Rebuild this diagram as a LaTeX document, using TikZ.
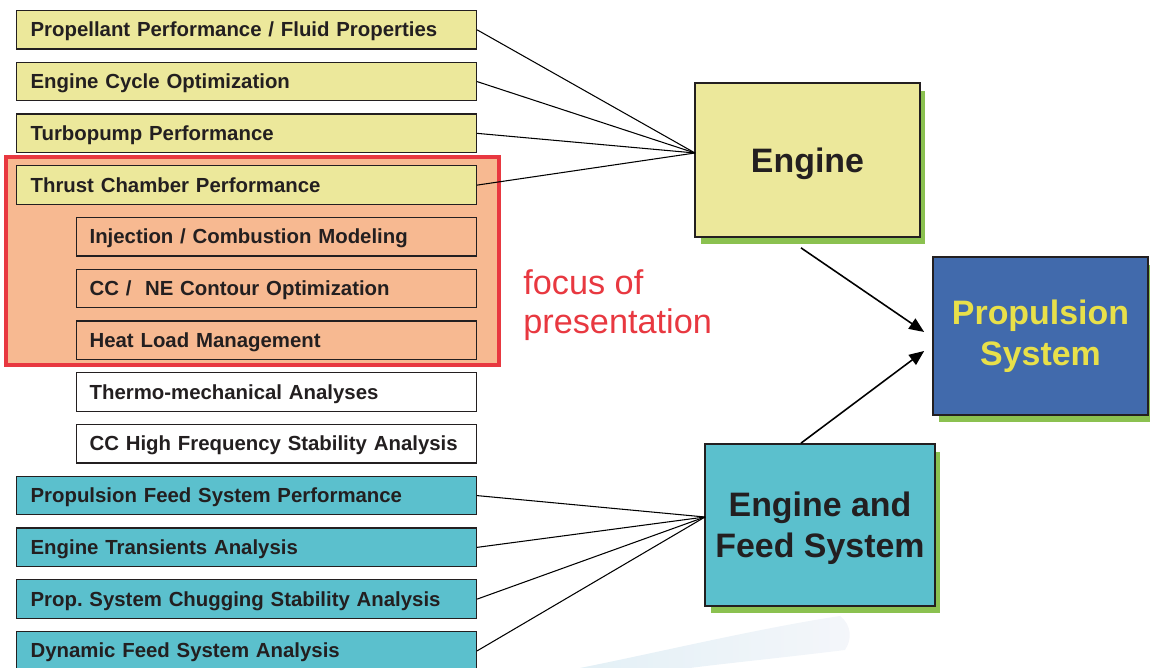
\documentclass[tikz,border=0pt]{standalone}
\usepackage{fontspec}
\setmainfont{Liberation Sans}
\usepackage{tikz}
\usetikzlibrary{shadows, arrows.meta}

\begin{document}
\frenchspacing
\begin{tikzpicture}[x=0.02cm, y=-0.02cm,
  rowbox/.style={draw=ink, line width=0.7pt, anchor=north west, minimum height=0.77cm,
    text width=8.64cm, inner xsep=0.28cm, inner ysep=0pt, align=left, text=ink,
    text height=0.85em, text depth=0.05em,
    font=\fontsize{11.6}{14}\selectfont\bfseries},
  subbox/.style={rowbox, text width=7.48cm, inner xsep=0.26cm},
  bigbox/.style={draw=ink, line width=1pt, align=center, text=ink,
    font=\fontsize{19.3}{23.3}\selectfont\bfseries,
    drop shadow={shadow xshift=0.11cm, shadow yshift=-0.15cm, fill=leafgreen, opacity=1}},
  feeder/.style={line width=0.6pt, draw=black},
  flow/.style={->, >={Triangle[length=8.5pt, width=7pt]}, line width=0.9pt}]
% --- cores ---
\definecolor{ink}{HTML}{231F20}
\definecolor{engineyellow}{HTML}{ECE89B}
\definecolor{salmon}{HTML}{F7B991}
\definecolor{focusred}{HTML}{E83840}
\definecolor{feedteal}{HTML}{5BC0CD}
\definecolor{sysblue}{HTML}{416AAC}
\definecolor{sysyellow}{HTML}{E8E04A}
\definecolor{leafgreen}{HTML}{8BC150}
\definecolor{hazeleft}{HTML}{E3F0F6}
\definecolor{hazeright}{HTML}{F4F6FA}

\useasboundingbox (0,0) rectangle (1150,668);

% LAYER 0: faint swoosh in the background
\shade[left color=hazeleft, right color=hazeright] (580,668) .. controls (660,652) and (760,628) .. (840,616) .. controls (852,625) and (852,640) .. (845,650) .. controls (780,658) and (720,664) .. (690,668) -- cycle;

% LAYER 1: engine tasks
\node[rowbox, fill=engineyellow] (fluid) at (16,10) {Propellant Performance / Fluid Properties};
\node[rowbox, fill=engineyellow] (cycle) at (16,61.75) {Engine Cycle Optimization};
\node[rowbox, fill=engineyellow] (turbo) at (16,113.5) {Turbopump Performance};

% LAYER 2: thrust chamber block inside the red frame
\draw[draw=focusred, line width=2.3pt, fill=salmon] (6.3,157.3) rectangle (499,365.3);
\node[rowbox, fill=engineyellow] (thrust) at (16,165.25) {Thrust Chamber Performance};
\node[subbox, fill=salmon] (inject) at (76,217) {Injection / Combustion Modeling};
\node[subbox, fill=salmon] (contour) at (76,268.75) {CC / \ NE Contour Optimization};
\node[subbox, fill=salmon] (heat) at (76,320.5) {Heat Load Management};
\node[subbox, fill=white] (thermo) at (76,372.25) {Thermo-mechanical Analyses};
\node[subbox, fill=white] (hifreq) at (76,424) {CC High Frequency Stability Analysis};
\node[anchor=base west, align=left, inner sep=0pt, text=focusred, font=\fontsize{19.5}{22.7}\selectfont] (focus) at (523,334) {focus of\\presentation};

% LAYER 3: feed system tasks
\node[rowbox, fill=feedteal] (feedperf) at (16,475.75) {Propulsion Feed System Performance};
\node[rowbox, fill=feedteal] (transient) at (16,527.5) {Engine Transients Analysis};
\node[rowbox, fill=feedteal] (chugging) at (16,579.25) {Prop. System Chugging Stability Analysis};
\node[rowbox, fill=feedteal] (dynfeed) at (16,631) {Dynamic Feed System Analysis};

% LAYER 4: system blocks
\node[bigbox, fill=engineyellow, minimum width=4.5cm, minimum height=3.08cm, text depth=0pt] (engine) at (807.5,160) {Engine};
\node[bigbox, fill=feedteal, minimum width=4.6cm, minimum height=3.24cm] (feed) at (820,525) {\rule{0pt}{0.92em}Engine and\\Feed System};
\node[bigbox, fill=sysblue, text=sysyellow, minimum width=4.3cm, minimum height=3.16cm] (system) at (1040.5,336) {Propulsion\\System};

% LAYER 5: connectors
\coordinate (engIn) at (695,153);
\coordinate (feedIn) at (705,517);
\draw[feeder] (fluid.east) -- (engIn);
\draw[feeder] (cycle.east) -- (engIn);
\draw[feeder] (turbo.east) -- (engIn);
\draw[feeder] (thrust.east) -- (engIn);
\draw[feeder] (feedperf.east) -- (feedIn);
\draw[feeder] (transient.east) -- (feedIn);
\draw[feeder] (chugging.east) -- (feedIn);
\draw[feeder] (dynfeed.east) -- (feedIn);
\draw[flow] ([xshift=-0.13cm, yshift=-0.2cm]engine.south) -- ([xshift=-0.16cm, yshift=0.08cm]system.west);
\draw[flow] ([xshift=-0.38cm]feed.north) -- ([xshift=-0.16cm, yshift=-0.3cm]system.west);
\end{tikzpicture}
\end{document}
